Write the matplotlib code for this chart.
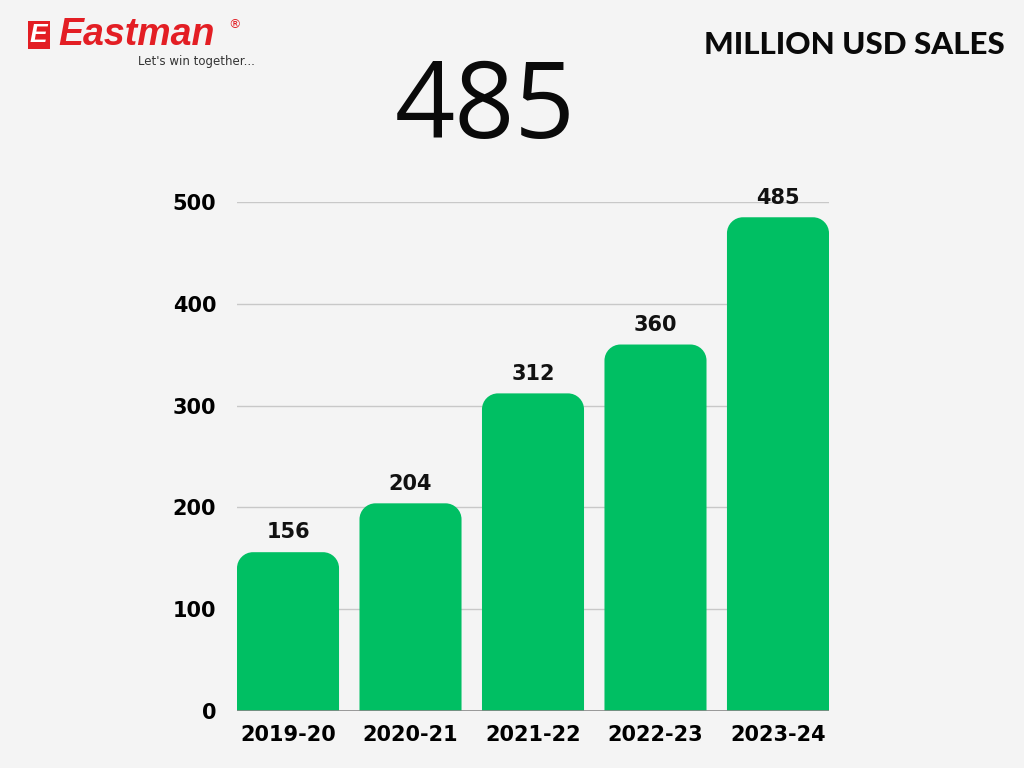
import matplotlib
matplotlib.use("Agg")
import matplotlib.pyplot as plt
from matplotlib.path import Path
from matplotlib.patches import PathPatch

categories = ["2019-20", "2020-21", "2021-22", "2022-23", "2023-24"]
sales = [156, 204, 312, 360, 485]
yticks = [0, 100, 200, 300, 400, 500]
headline = "485"
title = "MILLION USD SALES"

BG = "#F4F4F4"
GREEN = "#00BF63"

fig = plt.figure(figsize=(10.24, 7.68), dpi=100, facecolor=BG)
W, H = 1024, 768
ax = fig.add_axes([237 / W, 57 / H, (829 - 237) / W, (711 - 202) / H])
ax.set_facecolor(BG)
bw = 0.833
ax.set_xlim(-bw / 2, len(categories) - 1 + bw / 2)
ax.set_ylim(0, 500)
for s in ax.spines.values():
    s.set_visible(False)
ax.set_yticks(yticks)
ax.set_yticklabels([str(v) for v in yticks], fontsize=15, fontweight="bold", family="DejaVu Sans")
ax.set_xticks(range(len(categories)))
ax.set_xticklabels(categories, fontsize=15, fontweight="bold", family="DejaVu Sans")
ax.tick_params(axis="both", length=0)
ax.tick_params(axis="y", pad=15)
ax.tick_params(axis="x", pad=10)
for v in yticks[1:]:
    ax.axhline(v, color="#C8C8C8", lw=1, zorder=0)
ax.axhline(0, color="#888888", lw=1.2, zorder=3)

# rounded-top bars
pxx = ax.bbox.width / (ax.get_xlim()[1] - ax.get_xlim()[0])
pxy = ax.bbox.height / (ax.get_ylim()[1] - ax.get_ylim()[0])
r = 16
rx, ry = r / pxx, r / pxy
k = 0.5523
for i, v in enumerate(sales):
    x0, x1 = i - bw / 2, i + bw / 2
    verts = [(x0, 0), (x0, v - ry),
             (x0, v - ry + k * ry), (x0 + rx - k * rx, v), (x0 + rx, v),
             (x1 - rx, v),
             (x1 - rx + k * rx, v), (x1, v - ry + k * ry), (x1, v - ry),
             (x1, 0), (x0, 0)]
    codes = [Path.MOVETO, Path.LINETO,
             Path.CURVE4, Path.CURVE4, Path.CURVE4,
             Path.LINETO,
             Path.CURVE4, Path.CURVE4, Path.CURVE4,
             Path.LINETO, Path.CLOSEPOLY]
    ax.add_patch(PathPatch(Path(verts, codes), facecolor=GREEN, edgecolor="none", zorder=2))
    ax.annotate(str(v), (i, v), xytext=(0, 7), textcoords="offset points",
                ha="center", va="bottom", fontsize=15, fontweight="bold",
                family="DejaVu Sans", color="#111111", annotation_clip=False)

fig.text(485 / W, 1 - 110 / H, headline, ha="center", va="center", fontsize=76,
         family="Open Sans", color="#0A0A0A")
fig.text(1005 / W, 1 - 45 / H, title, ha="right", va="center", fontsize=22.5,
         fontweight="black", family="Lato", color="#0A0A0A")

# logo
fig.text(30 / W, 1 - 35 / H, "E", ha="left", va="center", fontsize=19, fontweight="bold",
         style="italic", family="Liberation Sans", color="white",
         bbox=dict(boxstyle="square,pad=0.08", fc="#E31E24", ec="none"))
fig.text(58 / W, 1 - 35 / H, "Eastman", ha="left", va="center", fontsize=27, fontweight="bold",
         style="italic", family="Liberation Sans", color="#E31E24")
fig.text(228 / W, 1 - 25 / H, "®", ha="left", va="center", fontsize=9, color="#E31E24")
fig.text(138 / W, 1 - 61 / H, "Let's win together...", ha="left", va="center", fontsize=8.5,
         family="Liberation Sans Narrow", color="#333333")

fig.savefig("out.png", dpi=100, facecolor=BG)
